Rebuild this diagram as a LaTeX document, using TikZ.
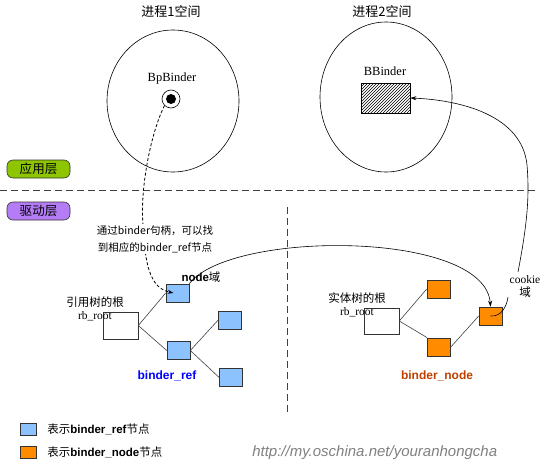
\documentclass[tikz,border=0pt]{standalone}
\usepackage{fontspec}
\setmainfont{Liberation Serif}
\setsansfont{Liberation Sans}
\newfontfamily\cjk{Noto Sans CJK SC}
\usetikzlibrary{patterns,arrows.meta}
\definecolor{refblue}{RGB}{140,195,255}
\definecolor{entorange}{RGB}{255,140,0}
\definecolor{appgreen}{RGB}{141,198,0}
\definecolor{drvpurple}{RGB}{180,125,245}
\definecolor{nodebrown}{RGB}{192,64,0}
\tikzset{
  refnode/.style={draw=black!80, fill=refblue, minimum width=23pt, minimum height=18pt, inner sep=0pt},
  entnode/.style={draw=black!80, fill=entorange, minimum width=23pt, minimum height=18pt, inner sep=0pt},
  rootbox/.style={draw=black!80, fill=white, minimum width=35pt, minimum height=27pt, inner sep=0pt},
  layerbox/.style={draw=black!80, rounded corners=6pt, minimum width=63pt, minimum height=18pt, inner sep=0pt, font=\cjk\fontsize{12.5}{14}\selectfont},
  legendbox/.style={draw=black!80, minimum width=16pt, minimum height=12pt, inner sep=0pt},
  treeline/.style={draw=black!75},
  lbl/.style={inner sep=1pt, font=\fontsize{11.5}{13}\selectfont},
}
\begin{document}
\begin{tikzpicture}[x=1pt, y=-1pt, line width=0.6pt, >={Stealth[length=6pt, width=4pt]}]
        \useasboundingbox (0,0) rectangle (553,463);
        % process spaces
        \node[lbl] (t1) at (171,12) {\cjk\fontsize{13}{15}\selectfont 进程1空间};
        \node[lbl] (t2) at (382,12) {\cjk\fontsize{13}{15}\selectfont 进程2空间};
        \draw (173,101) ellipse (66 and 71);
        \draw (386,97) ellipse (66 and 75);
        \node[lbl, font=\fontsize{12.5}{14}\selectfont] (bpl) at (172,78) {BpBinder};
        \node[circle, draw, fill=white, minimum size=18pt, inner sep=0pt] (bp) at (171,99) {};
        \fill (bp.center) circle (5);
        \node[lbl, font=\fontsize{12.5}{14}\selectfont] (bbl) at (385,71) {BBinder};
        \node[draw, pattern=north east lines, minimum width=49pt, minimum height=30pt, inner sep=0pt] (bb) at (385.5,98) {};
        % layers
        \node[layerbox, fill=appgreen] (app) at (38.5,169) {应用层};
        \node[layerbox, fill=drvpurple] (drv) at (38.5,211) {驱动层};
        \draw[dash pattern=on 7pt off 4pt, thick, black!75] (0,190) -- (535,190);
        \draw[dash pattern=on 7pt off 4pt, thick, black!75] (287,207) -- (287,413);
        % binder_ref tree
        \node[rootbox] (rootl) at (120.5,325.5) {};
        \node[refnode] (r1) at (177.5,293) {};
        \node[refnode] (r2) at (178.5,350.5) {};
        \node[refnode] (r3) at (230,320) {};
        \node[refnode] (r4) at (231,377.5) {};
        \draw[treeline] (rootl.east) -- (r1.west);
        \draw[treeline] (rootl.east) -- (r2.west);
        \draw[treeline] (r2.east) -- (r3.west);
        \draw[treeline] (r2.east) -- (r4.west);
        \node[lbl, align=center] (rootll) at (95,309) {{\cjk 引用树的根}\\[0pt]rb\_root};
        \node[lbl, font=\sffamily\bfseries\fontsize{12}{14}\selectfont, text=blue] (refl) at (167,376) {binder\_ref};
        \node[lbl] (nodel) at (201,277) {{\sffamily\bfseries node}{\cjk 域}};
        % binder_node tree
        \node[rootbox, minimum height=26pt] (rootr) at (381.5,321) {};
        \node[entnode] (e1) at (438.5,289) {};
        \node[entnode] (e2) at (439,347) {};
        \node[entnode] (e3) at (490.5,316) {};
        \draw[treeline] (rootr.east) -- (e1.west);
        \draw[treeline] (rootr.east) -- (e2.north west);
        \draw[treeline] (e2.east) -- (e3.west);
        \node[lbl, align=center] (rootrl) at (357,305) {{\cjk 实体树的根}\\[0pt]rb\_root};
        \node[lbl, font=\sffamily\bfseries\fontsize{12}{14}\selectfont, text=nodebrown] (entl) at (437,376) {binder\_node};
        \node[lbl, align=center] (cookiel) at (525,286) {cookie\\{\cjk 域}};
        % connectors
        \draw[->, dash pattern=on 3pt off 2pt, thick] (bp.south west) .. controls (150,135) and (140,190) .. (143,225)
              .. controls (145,265) and (150,288) .. ([xshift=-4pt]r1.center);
        \node[lbl, align=center, fill=white, font=\cjk\fontsize{10.5}{17}\selectfont] (hint) at (155,239) {通过binder句柄，可以找\\到相应的binder\_ref节点};
        \draw[->] (r1.north east) .. controls (230,230) and (485,230) .. (e3.north);
        \draw (e3.center) .. controls (502,317) and (507,305) .. (508,297);
        \draw[->] (518,272) .. controls (526,230) and (530,200) .. (527,165)
              .. controls (522,115) and (460,100) .. (bb.east);
        % legend
        \node[legendbox, fill=refblue] (leg1) at (28,429) {};
        \node[legendbox, fill=entorange] (leg2) at (28,452) {};
        \node[lbl, anchor=west] (leg1t) at (46,429) {{\cjk 表示}{\sffamily\bfseries binder\_ref}{\cjk 节点}};
        \node[lbl, anchor=west] (leg2t) at (46,452) {{\cjk 表示}{\sffamily\bfseries binder\_node}{\cjk 节点}};
        \node[anchor=west, inner sep=0pt, text=black!50, font=\sffamily\itshape\fontsize{15}{17}\selectfont] (url) at (252,453) {http://my.oschina.net/youranhongcha};
\end{tikzpicture}
\end{document}
